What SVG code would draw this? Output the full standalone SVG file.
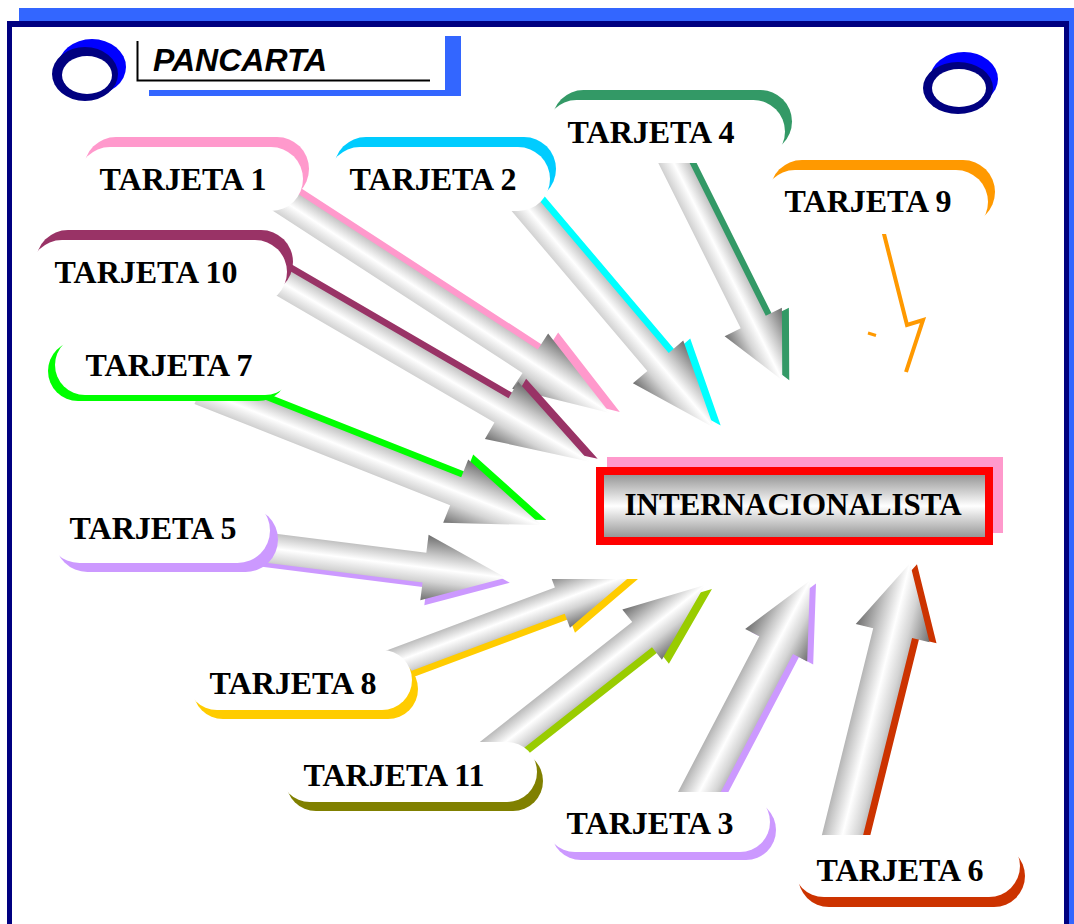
<svg xmlns="http://www.w3.org/2000/svg" width="1074" height="924" viewBox="0 0 1074 924">
<style>
.lbl{font-family:"Liberation Serif","Times New Roman",serif;font-weight:bold;font-size:32px;fill:#000;text-anchor:middle}
.card{fill:#fff}
.arr{fill:url(#ag)}
</style>
<defs>
<linearGradient id="ag" x1="0" y1="0" x2="0" y2="1">
<stop offset="0" stop-color="#6e6e6e"/>
<stop offset="0.3" stop-color="#c8c8c8"/>
<stop offset="0.5" stop-color="#ffffff"/>
<stop offset="0.7" stop-color="#d4d4d4"/>
<stop offset="1" stop-color="#707070"/>
</linearGradient>
<linearGradient id="bg" x1="0" y1="0" x2="0" y2="1">
<stop offset="0" stop-color="#8a8a8a"/>
<stop offset="0.5" stop-color="#ffffff"/>
<stop offset="1" stop-color="#8a8a8a"/>
</linearGradient>
</defs>
<rect width="1074" height="924" fill="#fff"/>
<g id="frame">
<rect x="19" y="8" width="1060" height="1000" fill="#3366FF"/>
<rect x="7" y="21" width="1062" height="1000" fill="#000080"/>
<rect x="12" y="27" width="1052" height="1000" fill="#fff"/>
</g>
<g id="ring-left">
<ellipse cx="92" cy="67" rx="34" ry="28" fill="#0000FF"/>
<ellipse cx="85" cy="74" rx="33" ry="27" fill="#000080"/>
<ellipse cx="87" cy="75" rx="25" ry="19" fill="#fff"/>
</g>
<g id="ring-right">
<ellipse cx="964" cy="79" rx="34" ry="27" fill="#0000FF"/>
<ellipse cx="958" cy="88" rx="35" ry="26" fill="#000080"/>
<ellipse cx="959" cy="88" rx="27" ry="19" fill="#fff"/>
</g>
<g id="title">
<rect x="445" y="36" width="16" height="60" fill="#3366FF"/>
<rect x="149" y="90" width="312" height="6" fill="#3366FF"/>
<path d="M137.5,41 V80.5 H430" fill="none" stroke="#000" stroke-width="2"/>
<text x="153" y="71" font-family="'Liberation Sans',Arial,sans-serif" font-weight="bold" font-style="italic" font-size="32">PANCARTA</text>
</g>
<g id="connectors">
<g id="arrow-1">
<path fill="#FF99CC" transform="translate(255,175) rotate(33)" d="M0,-14 H340 V-33 L435,0 L340,33 V14 H0 Z"/>
<path class="arr" transform="translate(245,176) rotate(33)" d="M0,-14 H340 V-33 L435,0 L340,33 V14 H0 Z"/>
</g>
<g id="arrow-10">
<path fill="#993366" transform="translate(258,261) rotate(30.2)" d="M0,-14 H291 V-33 L393,0 L291,33 V14 H0 Z"/>
<path class="arr" transform="translate(250,264) rotate(30.2)" d="M0,-14 H291 V-33 L393,0 L291,33 V14 H0 Z"/>
</g>
<g id="arrow-2">
<path fill="#00FFFF" transform="translate(515,183) rotate(49.7)" d="M0,-14 H232 V-33 L318,0 L232,33 V14 H0 Z"/>
<path class="arr" transform="translate(508,185) rotate(49.7)" d="M0,-14 H232 V-33 L318,0 L232,33 V14 H0 Z"/>
</g>
<g id="arrow-4">
<path fill="#339966" transform="translate(667,135) rotate(63.5)" d="M0,-14 H209 V-32 L274,0 L209,32 V14 H0 Z"/>
<path class="arr" transform="translate(660,135) rotate(63.5)" d="M0,-14 H209 V-32 L274,0 L209,32 V14 H0 Z"/>
</g>
<g id="arrow-9">
<polyline points="883,230 907,325 923,320 906,372" fill="none" stroke="#FF9900" stroke-width="4"/>
<line x1="868" y1="333" x2="876" y2="335.5" stroke="#FF9900" stroke-width="3"/>
</g>
<g id="arrow-7">
<path fill="#00FF00" transform="translate(205,385) rotate(21.6)" d="M0,-15 H275 V-34 L367,0 L275,34 V15 H0 Z"/>
<path class="arr" transform="translate(200,390) rotate(21.6)" d="M0,-15 H275 V-34 L367,0 L275,34 V15 H0 Z"/>
</g>
<g id="arrow-5">
<path fill="#CC99FF" transform="translate(234,548) rotate(7.2)" d="M0,-15 H196 V-33 L278,0 L196,33 V15 H0 Z"/>
<path class="arr" transform="translate(230,543) rotate(7.2)" d="M0,-15 H196 V-33 L278,0 L196,33 V15 H0 Z"/>
</g>
<g id="arrow-8">
<path fill="#FFCC00" transform="translate(355,684) rotate(-20.5)" d="M0,-14 H224 V-29 L304,0 L224,29 V14 H0 Z"/>
<path class="arr" transform="translate(350,679) rotate(-20.5)" d="M0,-14 H224 V-29 L304,0 L224,29 V14 H0 Z"/>
</g>
<g id="arrow-11">
<path fill="#99CC00" transform="translate(477,774) rotate(-38.2)" d="M0,-16 H219 V-32 L299,0 L219,32 V16 H0 Z"/>
<path class="arr" transform="translate(470,770) rotate(-38.2)" d="M0,-16 H219 V-32 L299,0 L219,32 V16 H0 Z"/>
</g>
<g id="arrow-3">
<path fill="#CC99FF" transform="translate(696,813) rotate(-62.4)" d="M0,-19 H186 V-35 L259,0 L186,35 V19 H0 Z"/>
<path class="arr" transform="translate(690,810) rotate(-62.4)" d="M0,-19 H186 V-35 L259,0 L186,35 V19 H0 Z"/>
</g>
<g id="arrow-6">
<path fill="#CC3300" transform="translate(844.7,855.4) rotate(-76.06)" d="M0,-20 H228 V-38 L300,0 L228,38 V20 H0 Z"/>
<path class="arr" transform="translate(837.7,854.4) rotate(-76.06)" d="M0,-20 H228 V-38 L300,0 L228,38 V20 H0 Z"/>
</g>
<rect x="530" y="547" width="300" height="32" fill="#fff"/>
</g>
<g id="tarjeta-1">
<rect x="84" y="137" width="225" height="64" rx="32" fill="#FF99CC"/>
<rect class="card" x="78" y="147" width="225" height="64" rx="32"/>
<text class="lbl" x="183" y="190">TARJETA 1</text>
</g>
<g id="tarjeta-2">
<rect x="334" y="137" width="222" height="64" rx="32" fill="#00CCFF"/>
<rect class="card" x="328" y="147" width="222" height="64" rx="32"/>
<text class="lbl" x="433" y="190">TARJETA 2</text>
</g>
<g id="tarjeta-4">
<rect x="552" y="90" width="240" height="63" rx="31.5" fill="#339966"/>
<rect class="card" x="545" y="100" width="240" height="63" rx="31.5"/>
<text class="lbl" x="651" y="143">TARJETA 4</text>
</g>
<g id="tarjeta-9">
<rect x="770" y="160" width="225" height="64" rx="32" fill="#FF9900"/>
<rect class="card" x="763" y="170" width="225" height="64" rx="32"/>
<text class="lbl" x="868" y="212">TARJETA 9</text>
</g>
<g id="tarjeta-10">
<rect x="36" y="230" width="257" height="64" rx="32" fill="#993366"/>
<rect class="card" x="30" y="240" width="257" height="64" rx="32"/>
<text class="lbl" x="146" y="283">TARJETA 10</text>
</g>
<g id="tarjeta-7">
<rect x="48" y="341" width="240" height="60" rx="30" fill="#00FF00"/>
<rect class="card" x="55" y="335" width="240" height="60" rx="30"/>
<text class="lbl" x="169" y="376">TARJETA 7</text>
</g>
<g id="tarjeta-5">
<rect x="55" y="507" width="223" height="65" rx="32.5" fill="#CC99FF"/>
<rect class="card" x="47" y="498" width="223" height="65" rx="32.5"/>
<text class="lbl" x="153" y="539">TARJETA 5</text>
</g>
<g id="tarjeta-8">
<rect x="193" y="659" width="225" height="60" rx="30" fill="#FFCC00"/>
<rect class="card" x="187" y="650" width="225" height="60" rx="30"/>
<text class="lbl" x="293" y="694">TARJETA 8</text>
</g>
<g id="tarjeta-11">
<rect x="286" y="751" width="257" height="60" rx="30" fill="#808000"/>
<rect class="card" x="280" y="742" width="257" height="60" rx="30"/>
<text class="lbl" x="394" y="786">TARJETA 11</text>
</g>
<g id="tarjeta-3">
<rect x="551" y="800" width="225" height="60" rx="30" fill="#CC99FF"/>
<rect class="card" x="545" y="792" width="225" height="60" rx="30"/>
<text class="lbl" x="650" y="834">TARJETA 3</text>
</g>
<g id="tarjeta-6">
<rect x="798" y="845" width="227" height="62" rx="31" fill="#CC3300"/>
<rect class="card" x="793" y="835" width="227" height="62" rx="31"/>
<text class="lbl" x="900" y="881">TARJETA 6</text>
</g>
<g id="internacionalista">
<rect x="607" y="457" width="396" height="76" fill="#FF99CC"/>
<rect x="600" y="471" width="389" height="70" fill="url(#bg)" stroke="#FF0000" stroke-width="8"/>
<text class="lbl" x="793" y="515" style="font-size:31px">INTERNACIONALISTA</text>
</g>
</svg>
